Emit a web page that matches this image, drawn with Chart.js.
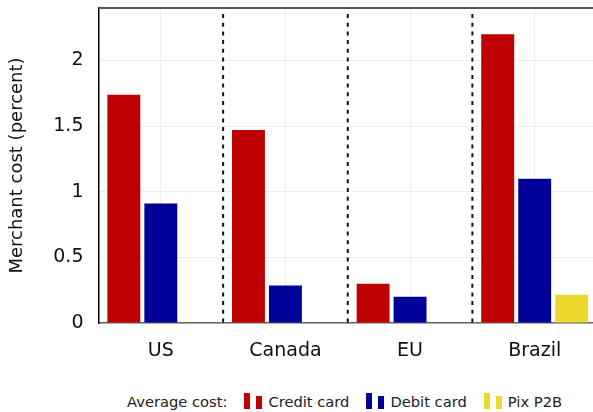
<!DOCTYPE html>
<html>
<head>
<meta charset="utf-8">
<script src="https://cdn.jsdelivr.net/npm/chart.js@4"></script>
<style>
  html, body { margin: 0; padding: 0; background: #fff; }
  body { width: 593px; height: 412px; overflow: hidden; position: relative; font-family: "DejaVu Sans", sans-serif; }
  #wrap { position: absolute; left: 0; top: 0; width: 600px; height: 372px; }
  #legend { position: absolute; top: 393px; left: 127px; display: flex; align-items: flex-end; font-size: 14.7px; color: #222; white-space: nowrap; }
  #legend .item { display: flex; align-items: flex-end; margin-left: 17px; }
  #legend .mk { display: inline-block; width: 6px; margin-right: 6px; }
  #legend .mk.a { height: 16px; margin-bottom: 1px; }
  #legend .mk.b { height: 13px; margin-bottom: 1px; }
</style>
</head>
<body>
<div id="wrap"><canvas id="chart"></canvas></div>
<div id="legend"><span>Average cost:</span></div>
<script>
const regions = ['US', 'Canada', 'EU', 'Brazil'];
const seriesNames = ['Credit card', 'Debit card', 'Pix P2B'];
const creditCard = [1.74, 1.47, 0.30, 2.20];
const debitCard = [0.91, 0.285, 0.20, 1.10];
const pixP2B = [null, null, null, 0.215];
const yTicks = [0, 0.5, 1, 1.5, 2];
const colors = ['#bf0000', '#000099', '#ecd92b'];

// dashed separators between regions + top frame
const separators = {
    id: 'separators',
    afterDraw(chart) {
        const ctx = chart.ctx;
        const x = chart.scales.x;
        const area = chart.chartArea;
        ctx.save();
        ctx.strokeStyle = '#111';
        ctx.lineWidth = 2;
        ctx.setLineDash([4, 4.7]);
        for (let i = 0; i < regions.length - 1; i++) {
            const px = (x.getPixelForValue(i) + x.getPixelForValue(i + 1)) / 2;
            ctx.beginPath();
            ctx.moveTo(px, area.top + 6);
            ctx.lineTo(px, area.bottom);
            ctx.stroke();
        }
        ctx.setLineDash([]);
        ctx.fillStyle = '#555';
        ctx.fillRect(area.left, area.top - 1, area.right - area.left + 5, 2);
        ctx.restore();
    }
};

const ctx = document.getElementById('chart').getContext('2d');
new Chart(ctx, {
    type: 'bar',
    data: {
        labels: regions,
        datasets: [creditCard, debitCard, pixP2B].map((vals, i) => ({
            label: seriesNames[i],
            data: vals,
            backgroundColor: colors[i],
            borderWidth: 0,
            categoryPercentage: 0.89,
            barPercentage: 0.89
        }))
    },
    options: {
        responsive: true,
        maintainAspectRatio: false,
        animation: false,
        layout: { padding: { top: 8, right: 3, left: 0, bottom: 0 } },
        plugins: {
            legend: { display: false },
            tooltip: { enabled: false }
        },
        scales: {
            x: {
                grid: { color: '#eeeeee', offset: false, drawTicks: false },
                border: { color: '#666', width: 1.5 },
                ticks: {
                    color: '#111',
                    font: { family: 'DejaVu Sans', size: 19 },
                    padding: 17
                },
                afterFit(scale) { scale.height = 49; scale.paddingLeft = 0; scale.paddingRight = 0; }
            },
            y: {
                min: 0,
                max: 2.4,
                grid: { color: '#eeeeee', drawTicks: false },
                border: { color: '#000', width: 1.5 },
                afterBuildTicks(scale) { scale.ticks = yTicks.map(v => ({ value: v })); },
                ticks: {
                    color: '#111',
                    font: { family: 'DejaVu Sans', size: 19 },
                    padding: 15,
                    callback: v => String(v)
                },
                title: {
                    display: true,
                    text: 'Merchant cost (percent)',
                    color: '#111',
                    font: { family: 'DejaVu Sans', size: 18 },
                    padding: { top: 7, bottom: 0 }
                },
                afterFit(scale) { scale.width = 98.5; scale.paddingTop = 0; scale.paddingBottom = 0; }
            }
        }
    },
    plugins: [separators]
});

// legend
const legend = document.getElementById('legend');
seriesNames.forEach((name, i) => {
    const item = document.createElement('span');
    item.className = 'item';
    item.innerHTML = '<span class="mk a" style="background:' + colors[i] + '"></span>' +
        '<span class="mk b" style="background:' + colors[i] + '"></span>' +
        '<span>' + name + '</span>';
    legend.appendChild(item);
});
</script>
</body>
</html>
